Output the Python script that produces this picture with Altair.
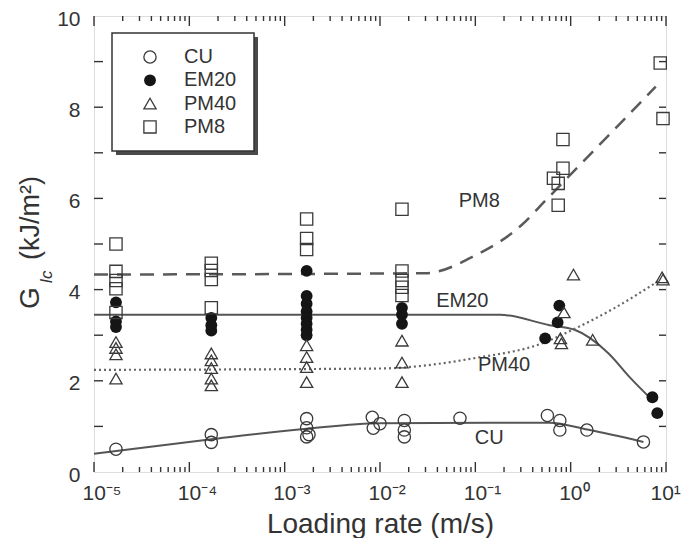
import altair as alt
import pandas as pd

# ---------------- data ----------------
series = ["CU", "EM20", "PM40", "PM8"]

cu_rate = [1.7e-5, 1.7e-4, 1.7e-4, 1.7e-3, 1.7e-3, 1.8e-3, 1.7e-3, 8.3e-3, 1.0e-2, 8.5e-3,
           1.8e-2, 1.8e-2, 1.8e-2, 0.069, 0.57, 0.77, 0.77, 1.48, 5.8]
cu_g = [0.50, 0.82, 0.65, 1.17, 0.97, 0.82, 0.77, 1.20, 1.06, 0.96,
        1.13, 0.92, 0.77, 1.18, 1.24, 1.13, 0.92, 0.92, 0.66]

em_rate = [1.7e-5, 1.7e-5, 1.7e-5, 1.7e-4, 1.7e-4, 1.7e-4,
           1.7e-3, 1.7e-3, 1.7e-3, 1.7e-3, 1.7e-3, 1.7e-3, 1.7e-3, 1.7e-3,
           1.7e-2, 1.7e-2, 1.7e-2, 0.76, 0.73, 0.54, 7.2, 8.1]
em_g = [3.72, 3.30, 3.18, 3.38, 3.22, 3.10,
        4.41, 3.86, 3.69, 3.52, 3.38, 3.25, 3.12, 3.00,
        3.60, 3.45, 3.25, 3.65, 3.28, 2.93, 1.64, 1.29]

pm40_rate = [1.7e-5, 1.7e-5, 1.7e-5, 1.7e-5, 1.7e-4, 1.7e-4, 1.7e-4, 1.7e-4, 1.7e-4,
             1.7e-3, 1.7e-3, 1.7e-3, 1.7e-3, 1.7e-2, 1.7e-2, 1.7e-2,
             1.07, 0.85, 0.78, 0.80, 1.7, 9.1, 9.3]
pm40_g = [2.85, 2.72, 2.58, 2.05, 2.60, 2.45, 2.28, 2.05, 1.90,
          2.78, 2.52, 2.30, 1.97, 2.88, 2.40, 1.97,
          4.33, 3.50, 2.93, 2.82, 2.90, 4.27, 4.22]

pm8_rate = [1.7e-5, 1.7e-5, 1.7e-5, 1.7e-5, 1.7e-5, 1.7e-4, 1.7e-4, 1.7e-4, 1.7e-4,
            1.7e-3, 1.7e-3, 1.7e-3, 1.7e-2, 1.7e-2, 1.7e-2, 1.7e-2, 1.7e-2,
            0.83, 0.83, 0.66, 0.74, 0.74, 8.7, 9.3]
pm8_g = [5.00, 4.40, 4.20, 4.02, 3.50, 4.58, 4.42, 4.22, 3.60,
         5.55, 5.12, 4.88, 5.76, 4.41, 4.20, 4.05, 3.87,
         7.29, 6.66, 6.44, 6.33, 5.85, 8.97, 7.75]

# fitted curves
cu_fit_rate = [1e-5, 1.7e-4, 1.7e-3, 1e-2, 0.6, 1.5, 5.8]
cu_fit_g = [0.40, 0.72, 0.95, 1.07, 1.08, 0.93, 0.66]
em_fit_rate = [1e-5, 0.18, 0.6, 1.1, 2.5, 4.2, 7.0]
em_fit_g = [3.45, 3.45, 3.22, 3.12, 2.60, 2.07, 1.60]
pm40_fit_rate = [1e-5, 1e-2, 0.1, 0.5, 1.1, 2.8, 8.5]
pm40_fit_g = [2.24, 2.27, 2.50, 2.82, 3.14, 3.58, 4.20]
pm8_fit_rate = [1e-5, 0.03, 0.1, 0.3, 0.56, 1.26, 3.3, 7.8]
pm8_fit_g = [4.33, 4.36, 4.75, 5.40, 5.98, 6.74, 7.64, 8.45]

# curve labels
label_text = ["CU", "EM20", "PM40", "PM8"]
label_rate = [0.14, 0.073, 0.2, 0.11]
label_g = [0.74, 3.76, 2.34, 5.94]

# axis ticks / labels
x_major = [1e-5, 1e-4, 1e-3, 1e-2, 1e-1, 1, 10]
x_labels = ["10⁻⁵", "10⁻⁴", "10⁻³", "10⁻²", "10⁻¹", "10⁰", "10¹"]
x_exps = [-5, -4, -3, -2, -1, 0, 1]
x_minor = [m * 10.0 ** e for e in range(-5, 1) for m in range(2, 10)]
y_major = [0, 2, 4, 6, 8, 10]
y_ticks = [1, 2, 3, 4, 5, 6, 7, 8, 9]

# ---------------- styling ----------------
W, H = 572, 456
FONT = "Liberation Sans"
INK = "#333333"
LINE = "#555555"

xscale = alt.Scale(type="log", domain=[1e-5, 10], nice=False)
yscale = alt.Scale(domain=[0, 10], nice=False)

label_expr = ""
for e, lab in zip(x_exps, x_labels):
    label_expr += f"round(log(datum.value)/LN10) == {e} ? '{lab}' : "
label_expr += "''"

pts = pd.concat([
    pd.DataFrame({"rate": cu_rate, "g": cu_g, "series": "CU"}),
    pd.DataFrame({"rate": em_rate, "g": em_g, "series": "EM20"}),
    pd.DataFrame({"rate": pm40_rate, "g": pm40_g, "series": "PM40"}),
    pd.DataFrame({"rate": pm8_rate, "g": pm8_g, "series": "PM8"}),
], ignore_index=True)

X = alt.X("rate:Q", scale=xscale, axis=alt.Axis(
    values=x_major, labelExpr=label_expr, ticks=False, domain=False, grid=False,
    labelFontSize=21, labelFont=FONT, labelColor=INK, labelPadding=10,
    labelAlign="left",
    labelOffset=alt.condition("datum.value > 5", alt.value(-16), alt.value(-12)),
    labelFlush=False, labelOverlap=False,
    title="Loading rate (m/s)", titleFontSize=28, titleFont=FONT,
    titleFontWeight="normal", titleColor=INK, titlePadding=7))
Y = alt.Y("g:Q", scale=yscale, axis=alt.Axis(
    values=y_major, ticks=False, domain=False, grid=False,
    labelFontSize=21, labelFont=FONT, labelColor=INK, labelPadding=14,
    labelOffset=3, labelFlush=False, labelOverlap=False, title=None))

shape_scale = alt.Scale(domain=series, range=["circle", "circle", "triangle-up", "square"])

open_pts = alt.Chart(pts).transform_filter(alt.datum.series != "EM20").mark_point(
    filled=False, size=150, strokeWidth=1.3, color="#3a3a3a", opacity=1, clip=False
).encode(x=X, y=Y, shape=alt.Shape("series:N", scale=shape_scale, legend=None))

filled_pts = alt.Chart(pts).transform_filter(alt.datum.series == "EM20").mark_point(
    filled=True, size=140, shape="circle", color="#151515", opacity=1, clip=False
).encode(x=X, y=Y)

def fit_line(xs, ys, dash, width, color):
    df = pd.DataFrame({"rate": xs, "g": ys})
    kw = dict(color=color, strokeWidth=width, interpolate="monotone")
    if dash:
        kw["strokeDash"] = dash
    return alt.Chart(df).mark_line(**kw).encode(
        x=alt.X("rate:Q", scale=xscale), y=alt.Y("g:Q", scale=yscale))

lines = [
    fit_line(cu_fit_rate, cu_fit_g, None, 2, LINE),
    fit_line(em_fit_rate, em_fit_g, None, 2, LINE),
    fit_line(pm40_fit_rate, pm40_fit_g, [2, 3], 2.2, "#666666"),
    fit_line(pm8_fit_rate, pm8_fit_g, [14, 9], 2.5, "#5a5a5a"),
]

labels_df = pd.DataFrame({"rate": label_rate, "g": label_g, "t": label_text})
curve_labels = alt.Chart(labels_df).mark_text(
    font=FONT, fontSize=20, color=INK, align="center", baseline="middle"
).encode(x=alt.X("rate:Q", scale=xscale), y=alt.Y("g:Q", scale=yscale), text="t:N")

# inward ticks
xmaj_df = pd.DataFrame({"v": x_major})
xmin_df = pd.DataFrame({"v": x_minor})
yt_df = pd.DataFrame({"v": y_ticks})
tick_style = dict(color=INK, strokeWidth=1.4)

def xticks(df, length):
    bottom = alt.Chart(df).mark_rule(**tick_style).encode(
        x=alt.X("v:Q", scale=xscale), y=alt.value(H), y2=alt.value(H - length))
    top = alt.Chart(df).mark_rule(**tick_style).encode(
        x=alt.X("v:Q", scale=xscale), y=alt.value(0), y2=alt.value(length))
    return [bottom, top]

ticks = xticks(xmaj_df, 10) + xticks(xmin_df, 5)
ticks.append(alt.Chart(yt_df).mark_rule(**tick_style).encode(
    y=alt.Y("v:Q", scale=yscale), x=alt.value(0), x2=alt.value(9)))
ticks.append(alt.Chart(yt_df).mark_rule(**tick_style).encode(
    y=alt.Y("v:Q", scale=yscale), x=alt.value(W), x2=alt.value(W - 7)))

# y-axis title built from text pieces (G with subscript Ic)
one = pd.DataFrame({"a": [0]})
ytitle = [
    alt.Chart(one).mark_text(text="G", font=FONT, fontSize=28, color=INK, angle=270,
                             align="center", baseline="middle").encode(
        x=alt.value(-63), y=alt.value(282)),
    alt.Chart(one).mark_text(text="Ic", font=FONT, fontSize=17, fontStyle="italic", color=INK,
                             angle=270, align="center", baseline="middle").encode(
        x=alt.value(-47), y=alt.value(261)),
    alt.Chart(one).mark_text(text="(kJ/m²)", font=FONT, fontSize=27, color=INK, angle=270,
                             align="center", baseline="middle").encode(
        x=alt.value(-63), y=alt.value(202)),
]

# legend box with shadow
legend_layers = [
    alt.Chart(one).mark_rect(color="#4a4a4a").encode(
        x=alt.value(22), x2=alt.value(164), y=alt.value(21), y2=alt.value(139)),
    alt.Chart(one).mark_rect(fill="white", stroke=INK, strokeWidth=1.5).encode(
        x=alt.value(18), x2=alt.value(160), y=alt.value(17), y2=alt.value(135)),
]
legend_shapes = ["circle", "circle", "triangle-up", "square"]
legend_filled = [False, True, False, False]
for i, cat in enumerate(series):
    yy = 41 + 23.3 * i
    if legend_filled[i]:
        sym = alt.Chart(one).mark_point(shape=legend_shapes[i], filled=True, size=140,
                                        color="#151515", opacity=1)
    else:
        sym = alt.Chart(one).mark_point(shape=legend_shapes[i], filled=False, size=150,
                                        strokeWidth=1.3, color="#3a3a3a", opacity=1)
    legend_layers.append(sym.encode(x=alt.value(56), y=alt.value(yy)))
    legend_layers.append(alt.Chart(one).mark_text(
        text=cat, font=FONT, fontSize=20, color=INK, align="left", baseline="middle"
    ).encode(x=alt.value(90), y=alt.value(yy)))

chart = alt.layer(
    *lines, filled_pts, open_pts, curve_labels, *ticks, *ytitle, *legend_layers
).resolve_scale(shape="independent").properties(
    width=W, height=H,
    autosize=alt.AutoSizeParams(type="none"),
    padding={"left": 86, "top": 8, "right": 15, "bottom": 66},
).configure_view(stroke=INK, strokeWidth=1.6).configure(background="white")

chart.save("out.html", embed_options={"renderer": "svg", "actions": False})
